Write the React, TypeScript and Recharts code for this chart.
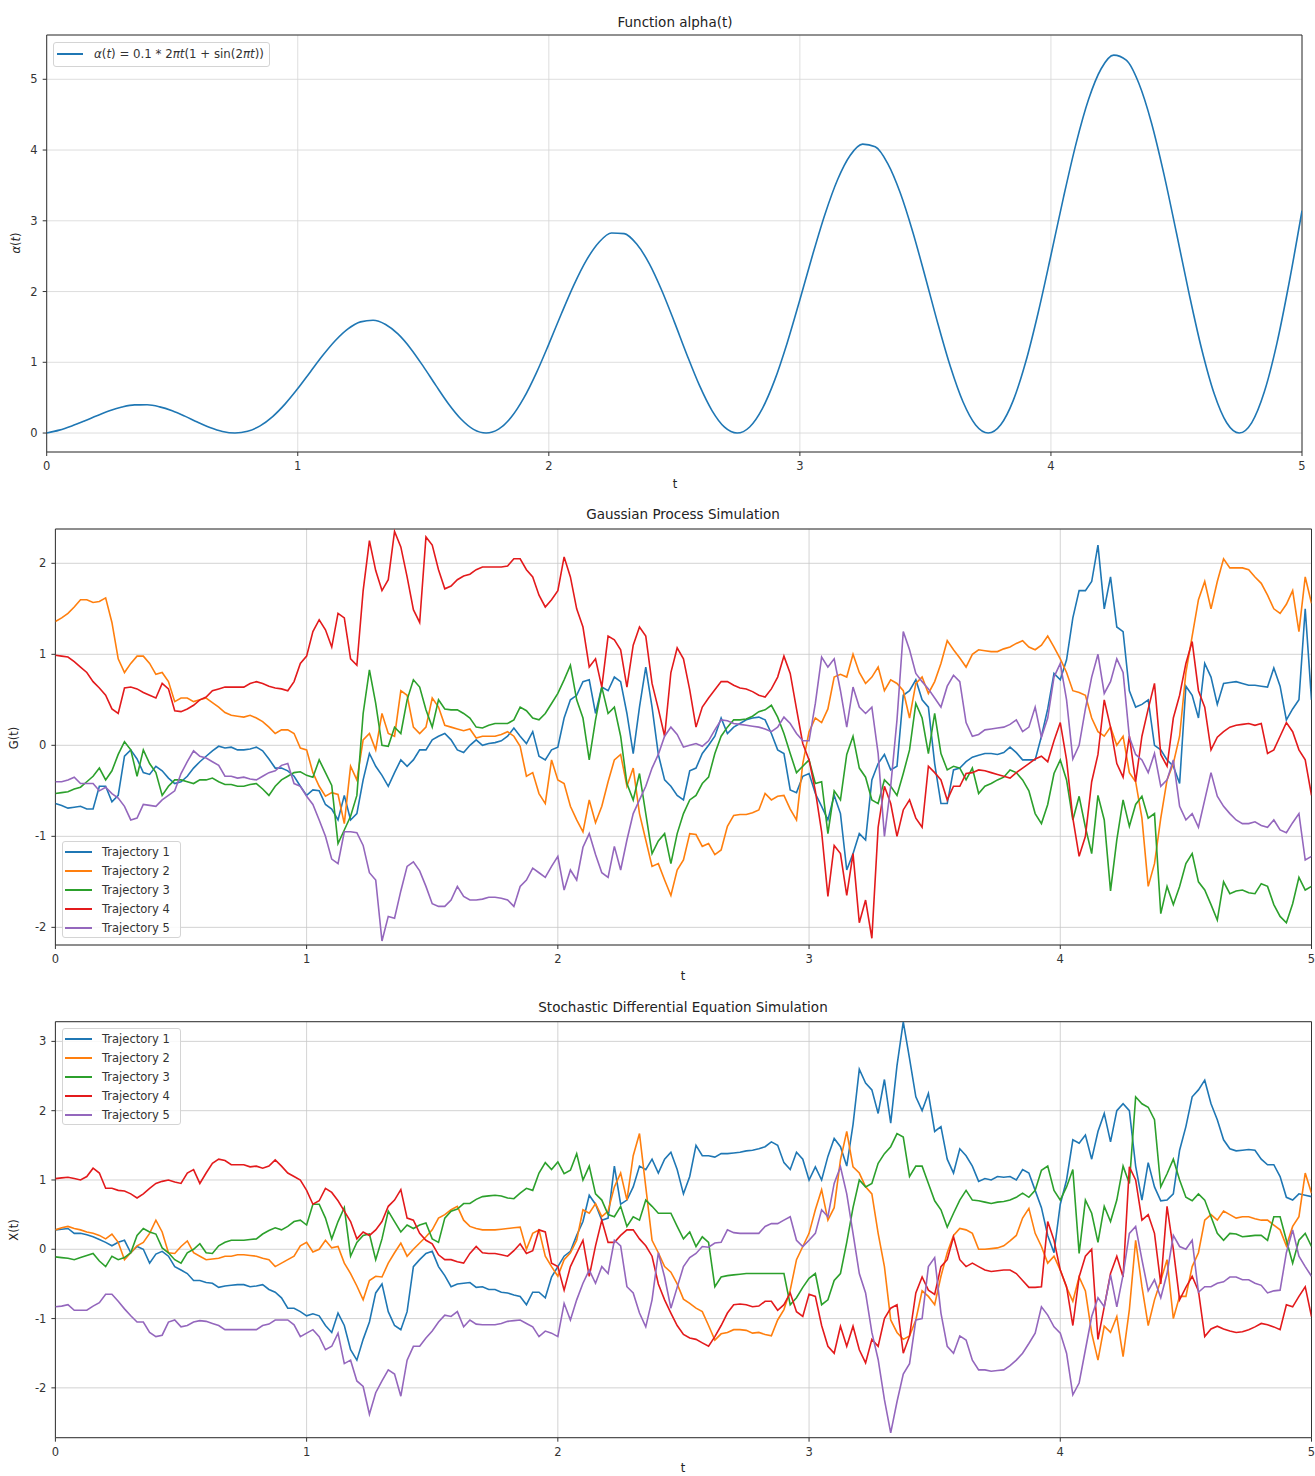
import React from 'react';
import { LineChart, Line, XAxis, YAxis, CartesianGrid, ReferenceArea } from 'recharts';

const FONT = '"DejaVu Sans", Verdana, sans-serif';

// time grid shared by every series (main points)
const tValues = [
  0, 0.05, 0.1, 0.15, 0.2, 0.25, 0.3, 0.35, 0.4, 0.45,
  0.5, 0.55, 0.6, 0.65, 0.7, 0.75, 0.8, 0.85, 0.9, 0.95,
  1, 1.05, 1.1, 1.15, 1.2, 1.25, 1.3, 1.35, 1.4, 1.45,
  1.5, 1.55, 1.6, 1.65, 1.7, 1.75, 1.8, 1.85, 1.9, 1.95,
  2, 2.05, 2.1, 2.15, 2.2, 2.25, 2.3, 2.35, 2.4, 2.45,
  2.5, 2.55, 2.6, 2.65, 2.7, 2.75, 2.8, 2.85, 2.9, 2.95,
  3, 3.05, 3.1, 3.15, 3.2, 3.25, 3.3, 3.35, 3.4, 3.45,
  3.5, 3.55, 3.6, 3.65, 3.7, 3.75, 3.8, 3.85, 3.9, 3.95,
  4, 4.05, 4.1, 4.15, 4.2, 4.25, 4.3, 4.35, 4.4, 4.45,
  4.5, 4.55, 4.6, 4.65, 4.7, 4.75, 4.8, 4.85, 4.9, 4.95, 5,
];
// in-between sample times used by the noisy trajectories
const tMid = [
  0.025, 0.075, 0.125, 0.175, 0.225, 0.275, 0.325, 0.375, 0.425, 0.475,
  0.525, 0.575, 0.625, 0.675, 0.725, 0.775, 0.825, 0.875, 0.925, 0.975,
  1.025, 1.075, 1.125, 1.175, 1.225, 1.275, 1.325, 1.375, 1.425, 1.475,
  1.525, 1.575, 1.625, 1.675, 1.725, 1.775, 1.825, 1.875, 1.925, 1.975,
  2.025, 2.075, 2.125, 2.175, 2.225, 2.275, 2.325, 2.375, 2.425, 2.475,
  2.525, 2.575, 2.625, 2.675, 2.725, 2.775, 2.825, 2.875, 2.925, 2.975,
  3.025, 3.075, 3.125, 3.175, 3.225, 3.275, 3.325, 3.375, 3.425, 3.475,
  3.525, 3.575, 3.625, 3.675, 3.725, 3.775, 3.825, 3.875, 3.925, 3.975,
  4.025, 4.075, 4.125, 4.175, 4.225, 4.275, 4.325, 4.375, 4.425, 4.475,
  4.525, 4.575, 4.625, 4.675, 4.725, 4.775, 4.825, 4.875, 4.925, 4.975,
];

const alphaValues = [
  0, 0.041, 0.1, 0.17, 0.245, 0.314, 0.368, 0.398, 0.399, 0.37,
  0.314, 0.239, 0.155, 0.078, 0.022, 0, 0.025, 0.102, 0.233, 0.412,
  0.628, 0.864, 1.098, 1.307, 1.471, 1.571, 1.594, 1.534, 1.397, 1.193,
  0.942, 0.673, 0.414, 0.198, 0.052, 0, 0.055, 0.222, 0.492, 0.847,
  1.257, 1.686, 2.095, 2.444, 2.697, 2.827, 2.819, 2.671, 2.395, 2.015,
  1.571, 1.107, 0.673, 0.318, 0.083, 0, 0.086, 0.342, 0.751, 1.281,
  1.885, 2.509, 3.093, 3.58, 3.923, 4.084, 4.045, 3.808, 3.392, 2.838,
  2.199, 1.541, 0.932, 0.438, 0.114, 0, 0.117, 0.462, 1.01, 1.715,
  2.513, 3.331, 4.091, 4.717, 5.149, 5.341, 5.271, 4.944, 4.39, 3.66,
  2.827, 1.975, 1.191, 0.558, 0.145, 0, 0.148, 0.582, 1.268, 2.149, 3.142,
];

// Gaussian process trajectories, values at tValues
const gp1 = [
  -0.64, -0.69, -0.67, -0.7, -0.45, -0.55, -0.05, -0.3, -0.23, -0.36,
  -0.4, -0.25, -0.12, -0.01, -0.02, -0.05, -0.02, -0.15, -0.25, -0.34,
  -0.55, -0.5, -0.7, -0.55, -0.75, -0.09, -0.33, -0.3, -0.23, -0.05,
  0.06, 0.13, -0.05, 0, 0, 0.03, 0.1, 0.1, 0.15, -0.16,
  -0.02, 0.5, 0.7, 0.35, 0.6, 0.7, -0.09, 0.86, -0.1, -0.45,
  -0.6, -0.25, 0, 0.3, 0.2, 0.28, 0.31, 0.13, -0.09, -0.52,
  -0.31, -0.67, -0.55, -1.37, -0.97, -0.38, -0.1, -0.23, 0.6, 0.5,
  -0.2, -0.64, -0.25, -0.13, -0.09, -0.1, -0.02, -0.16, -0.16, 0.4,
  0.72, 1.4, 1.7, 2.2, 1.85, 1.25, 0.42, 0.5, -0.05, -0.23,
  0.65, 0.3, 0.75, 0.68, 0.7, 0.66, 0.65, 0.85, 0.28, 0.5, 0.5,
];
const gp2 = [
  1.36, 1.45, 1.6, 1.57, 1.62, 0.95, 0.9, 0.98, 0.78, 0.7,
  0.52, 0.48, 0.52, 0.42, 0.33, 0.31, 0.3, 0.2, 0.17, 0.13,
  -0.05, -0.45, -0.52, -0.86, -0.38, 0.13, 0.35, 0.1, 0.55, 0.13,
  0.52, 0.22, 0.18, 0.18, 0.1, 0.1, 0.15, -0.01, -0.3, -0.64,
  -0.38, -0.67, -0.95, -0.85, -0.4, -0.1, -0.25, -1.04, -1.3, -1.65,
  -1.26, -0.98, -1.08, -1.15, -0.77, -0.76, -0.71, -0.6, -0.55, -0.82,
  0.15, 0.25, 0.75, 0.75, 0.8, 0.75, 0.6, 0.68, 0.3, 0.75,
  0.7, 1.15, 0.96, 1.0, 1.04, 1.03, 1.08, 1.15, 1.05, 1.2,
  0.95, 0.6, 0.55, 0.15, 0.2, 0.1, -0.4, -1.55, -0.8, -0.2,
  0.8, 1.6, 1.5, 2.05, 1.95, 1.93, 1.78, 1.5, 1.55, 1.25, 1.56,
];
const gp3 = [
  -0.53, -0.51, -0.46, -0.34, -0.38, -0.1, -0.05, -0.05, -0.3, -0.45,
  -0.38, -0.42, -0.38, -0.4, -0.43, -0.45, -0.42, -0.55, -0.38, -0.3,
  -0.33, -0.16, -0.44, -0.93, -0.55, 0.83, 0, 0.2, 0.5, 0.64,
  0.2, 0.4, 0.39, 0.3, 0.19, 0.24, 0.24, 0.42, 0.3, 0.35,
  0.57, 0.88, 0.3, 0.28, 0.35, 0.1, -0.6, -0.75, -1.05, -1.3,
  -0.75, -0.55, -0.35, 0.1, 0.28, 0.29, 0.37, 0.44, 0.13, -0.3,
  -0.16, -0.4, -0.5, -0.1, -0.25, -0.6, -0.38, -0.55, -0.05, 0.3,
  0.35, -0.27, -0.25, -0.25, -0.45, -0.38, -0.27, -0.38, -0.75, -0.65,
  -0.16, -0.82, -0.9, -0.55, -1.6, -0.6, -0.65, -0.8, -1.85, -1.75,
  -1.3, -1.5, -1.75, -1.5, -1.6, -1.62, -1.52, -1.75, -1.95, -1.45, -1.55,
];
const gp4 = [
  0.99, 0.97, 0.86, 0.7, 0.55, 0.35, 0.64, 0.58, 0.52, 0.62,
  0.37, 0.44, 0.53, 0.62, 0.64, 0.64, 0.7, 0.65, 0.62, 0.7,
  0.98, 1.38, 1.08, 1.4, 0.88, 2.25, 1.7, 2.35, 1.85, 1.35,
  2.2, 1.72, 1.82, 1.88, 1.96, 1.96, 1.97, 2.05, 1.85, 1.52,
  1.7, 1.85, 1.3, 0.95, 1.2, 1.05, 1.1, 1.2, 0.4, 0.8,
  0.95, 0.2, 0.52, 0.7, 0.66, 0.62, 0.55, 0.62, 0.98, 0.4,
  -0.16, -0.95, -1.1, -1.65, -1.95, -2.12, -0.45, -1.0, -0.6, -0.9,
  -0.3, -0.6, -0.45, -0.3, -0.28, -0.32, -0.36, -0.25, -0.15, -0.18,
  0.25, -0.8, -1.0, -0.1, 0.2, -0.35, -0.4, 0.4, -0.1, 0.3,
  0.9, 0.6, -0.05, 0.15, 0.22, 0.24, 0.24, -0.05, 0.25, -0.05, -0.55,
];
const gp5 = [
  -0.4, -0.38, -0.42, -0.42, -0.46, -0.58, -0.82, -0.65, -0.67, -0.55,
  -0.31, -0.06, -0.14, -0.22, -0.34, -0.35, -0.38, -0.3, -0.22, -0.42,
  -0.56, -0.82, -1.25, -0.95, -0.96, -1.4, -2.15, -1.9, -1.33, -1.38,
  -1.74, -1.77, -1.55, -1.7, -1.69, -1.67, -1.7, -1.55, -1.35, -1.45,
  -1.22, -1.37, -1.12, -1.2, -1.45, -1.37, -0.75, -0.45, -0.1, 0.2,
  -0.02, 0.02, 0.05, 0.28, 0.24, 0.22, 0.2, 0.15, 0.31, 0.13,
  0.05, 0.97, 0.95, 0.2, 0.42, 0.42, -1.0, 0.28, 1.05, 0.7,
  0.52, 0.65, 0.7, 0.1, 0.17, 0.19, 0.23, 0.15, 0.42, 0.3,
  0.9, -0.15, 0.4, 1.0, 0.7, 0.8, -0.1, -0.3, -0.45, -0.16,
  -0.82, -0.9, -0.3, -0.67, -0.82, -0.86, -0.88, -0.82, -0.96, -0.75, -1.22,
];

// Gaussian process trajectories, values at tMid
const gp1Mid = [
  -0.66, -0.68, -0.7, -0.45, -0.62, -0.12, -0.15, -0.32, -0.28, -0.42,
  -0.34, -0.18, -0.06, -0.03, -0.05, -0.04, -0.06, -0.25, -0.28, -0.45,
  -0.49, -0.65, -0.82, -0.82, -0.38, -0.23, -0.45, -0.16, -0.16, -0.05,
  0.1, 0.06, -0.08, 0.06, 0.02, 0.05, 0.19, 0.02, -0.12, -0.05,
  0.3, 0.55, 0.72, 0.64, 0.75, 0.35, 0.42, 0.42, -0.38, -0.55,
  -0.28, -0.09, 0.1, 0.13, 0.24, 0.3, 0.28, -0.05, -0.49, -0.34,
  -0.53, -0.82, -0.75, -1.19, -1.04, -0.2, -0.27, 0.55, 0.72, 0.42,
  -0.64, -0.27, -0.18, -0.11, -0.09, -0.08, -0.08, -0.16, 0.1, 0.79,
  0.94, 1.7, 1.8, 1.5, 1.3, 0.6, 0.45, 0, -0.16, -0.42,
  0.55, 0.9, 0.45, 0.69, 0.68, 0.66, 0.64, 0.65, 0.4, 1.5,
];
const gp2Mid = [
  1.4, 1.52, 1.6, 1.58, 1.35, 0.8, 0.98, 0.9, 0.8, 0.48,
  0.52, 0.5, 0.47, 0.36, 0.32, 0.33, 0.26, 0.13, 0.17, -0.03,
  -0.3, -0.56, -0.54, -0.23, 0.06, -0.05, 0.13, 0.6, 0.2, 0.2,
  0.42, 0.2, 0.16, 0.08, 0.1, 0.12, 0.1, -0.34, -0.53, -0.16,
  -0.42, -0.82, -0.6, -0.67, -0.16, -0.45, -0.75, -1.33, -1.48, -1.37,
  -0.97, -1.11, -1.2, -0.89, -0.76, -0.74, -0.53, -0.56, -0.7, -0.2,
  0.3, 0.4, 0.78, 1.0, 0.68, 0.86, 0.72, 0.6, 0.68, 0.57,
  0.9, 1.05, 0.86, 1.05, 1.03, 1.06, 1.12, 1.08, 1.1, 1.08,
  0.8, 0.58, 0.3, 0.1, 0, -0.3, -0.8, -1.3, -0.38, 0.1,
  1.2, 1.8, 1.8, 1.95, 1.95, 1.85, 1.65, 1.45, 1.7, 1.85,
];
const gp3Mid = [
  -0.52, -0.48, -0.4, -0.25, -0.28, 0.04, -0.34, -0.2, -0.55, -0.38,
  -0.4, -0.38, -0.36, -0.43, -0.45, -0.43, -0.48, -0.45, -0.34, -0.29,
  -0.35, -0.3, -1.08, -0.78, 0.35, 0.46, -0.01, 0.13, 0.72, 0.39,
  0.5, 0.39, 0.35, 0.2, 0.22, 0.24, 0.28, 0.38, 0.28, 0.46,
  0.72, 0.5, -0.16, 0.64, 0.42, -0.42, -0.31, -1.19, -0.97, -0.97,
  -0.6, -0.42, -0.09, 0.2, 0.28, 0.32, 0.39, 0.31, -0.09, -0.23,
  -0.42, -0.97, -0.6, 0.1, -0.35, -0.64, -0.45, -0.31, 0.46, -0.09,
  -0.09, -0.23, -0.38, -0.53, -0.42, -0.35, -0.3, -0.5, -0.86, -0.31,
  -0.38, -0.56, -1.19, -0.82, -1.04, -0.89, -0.56, -0.75, -1.55, -1.55,
  -1.19, -1.59, -1.92, -1.63, -1.59, -1.63, -1.55, -1.88, -1.74, -1.59,
];
const gp4Mid = [
  0.98, 0.92, 0.8, 0.63, 0.4, 0.63, 0.62, 0.55, 0.68, 0.38,
  0.4, 0.5, 0.6, 0.64, 0.64, 0.68, 0.68, 0.63, 0.6, 0.9,
  1.25, 1.27, 1.45, 0.95, 1.7, 1.92, 1.82, 2.18, 1.49, 2.29,
  1.93, 1.75, 1.86, 1.93, 1.96, 1.96, 2.05, 1.93, 1.65, 1.6,
  2.07, 1.5, 0.86, 0.64, 1.16, 0.64, 1.3, 0.68, 0.1, 1.07,
  0.61, 0.42, 0.61, 0.7, 0.63, 0.59, 0.53, 0.75, 0.79, 0.02,
  -0.5, -1.66, -1.19, -1.19, -1.7, -0.9, -0.64, -0.71, -0.8, -0.23,
  -0.38, -0.45, -0.31, -0.27, -0.3, -0.34, -0.3, -0.2, -0.12, 0.05,
  -0.16, -1.22, -0.4, 0.5, -0.2, 0.1, 0.1, 0.68, -0.23, 0.55,
  1.14, 0.42, 0.09, 0.2, 0.23, 0.22, -0.09, 0.1, 0.15, -0.16,
];
const gp5Mid = [
  -0.4, -0.35, -0.42, -0.5, -0.53, -0.67, -0.8, -0.66, -0.6, -0.5,
  -0.18, -0.12, -0.18, -0.34, -0.36, -0.37, -0.34, -0.28, -0.2, -0.45,
  -0.65, -1.0, -1.3, -0.95, -1.1, -1.48, -1.88, -1.6, -1.28, -1.55,
  -1.77, -1.7, -1.66, -1.7, -1.67, -1.68, -1.77, -1.48, -1.4, -1.33,
  -1.59, -1.48, -0.97, -1.4, -1.11, -1.04, -0.6, -0.25, 0.1, 0.12,
  0, -0.01, 0.17, 0.27, 0.23, 0.21, 0.18, 0.2, 0.24, 0.05,
  0.46, 0.86, 0.6, 0.64, 0.35, -0.09, -0.45, 1.25, 0.79, 0.62,
  0.42, 0.77, 0.25, 0.12, 0.18, 0.2, 0.28, 0.2, 0.09, 0.75,
  0.5, 0, 0.75, 0.57, 0.95, 0.09, -0.16, -0.09, -0.38, -0.67,
  -0.75, -0.6, -0.56, -0.75, -0.86, -0.84, -0.9, -0.93, -0.85, -1.26,
];

// SDE trajectories, values at tValues
const sde1 = [
  0.28, 0.3, 0.23, 0.18, 0.1, 0.1, -0.05, 0, -0.07, -0.1,
  -0.3, -0.45, -0.48, -0.55, -0.52, -0.51, -0.53, -0.58, -0.7, -0.85,
  -0.96, -0.96, -1.2, -1.1, -1.6, -1.05, -0.5, -1.1, -0.9, -0.15,
  -0.03, -0.38, -0.5, -0.48, -0.54, -0.58, -0.63, -0.68, -0.62, -0.7,
  -0.25, -0.03, 0.4, 0.65, 0.45, 0.65, 0.9, 1.15, 1.1, 1.4,
  0.8, 1.5, 1.35, 1.38, 1.39, 1.42, 1.45, 1.55, 1.25, 1.4,
  1.0, 1.0, 1.6, 1.2, 2.6, 2.3, 2.45, 2.65, 2.75, 2.0,
  1.7, 1.3, 1.45, 1.2, 1.02, 1.05, 1.05, 1.15, 0.85, 0.2,
  0.65, 1.58, 1.65, 1.7, 1.55, 2.1, 1.2, 1.25, 0.7, 0.8,
  1.77, 2.3, 2.1, 1.58, 1.42, 1.44, 1.3, 1.22, 0.75, 0.8, 0.76,
];
const sde2 = [
  0.28, 0.33, 0.28, 0.23, 0.15, 0.1, -0.05, 0.1, 0.42, -0.05,
  0.04, -0.05, -0.15, -0.13, -0.1, -0.08, -0.1, -0.15, -0.2, -0.1,
  0.1, 0, 0.02, -0.2, -0.53, -0.45, -0.4, -0.05, -0.1, 0.09,
  0.28, 0.5, 0.62, 0.33, 0.28, 0.28, 0.3, 0.32, 0.23, -0.1,
  -0.39, -0.05, 0.57, 0.66, 0.55, 1.1, 1.35, 0.9, -0.05, -0.33,
  -0.72, -0.85, -1.1, -1.22, -1.16, -1.17, -1.2, -1.25, -0.87, -0.15,
  0.23, 0.86, 0.6, 1.7, 1.1, 0.8, -0.25, -1.2, -1.25, -0.6,
  -0.8, -0.05, 0.3, 0.23, 0, 0.02, 0.12, 0.45, 0.23, -0.2,
  -0.3, -0.75, -0.6, -1.6, -1.2, -1.55, 0.13, -1.1, -0.45, -1.0,
  -0.68, -0.05, 0.5, 0.55, 0.45, 0.47, 0.42, 0.35, 0.05, 0.47, 0.81,
];
const sde3 = [
  -0.11, -0.13, -0.12, -0.06, -0.25, -0.15, -0.05, 0.3, 0.22, -0.05,
  -0.2, 0, -0.05, 0.05, 0.13, 0.13, 0.15, 0.27, 0.28, 0.4,
  0.35, 0.65, 0.15, 0.6, 0.1, 0.22, 0.15, 0.4, 0.35, 0.35,
  0.15, 0.45, 0.58, 0.66, 0.76, 0.78, 0.74, 0.81, 0.85, 1.25,
  1.26, 1.14, 1.0, 0.8, 0.5, 0.62, 0.47, 0.71, 0.52, 0.52,
  0.15, 0.04, 0.1, -0.4, -0.37, -0.35, -0.35, -0.35, -0.35, -0.7,
  -0.42, -0.8, -0.45, 0.1, 1.0, 0.95, 1.38, 1.67, 1.05, 1.2,
  0.7, 0.32, 0.71, 0.71, 0.68, 0.68, 0.71, 0.81, 0.85, 1.2,
  0.71, 1.15, 0.71, 0.1, 0.4, 1.2, 2.2, 2.05, 0.9, 1.3,
  0.75, 0.8, 0.47, 0.13, 0.22, 0.19, 0.2, 0.47, 0.13, 0.13, 0.04,
];
const sde4 = [
  1.02, 1.04, 1.0, 1.17, 0.88, 0.85, 0.8, 0.8, 0.95, 1.0,
  0.95, 1.15, 1.1, 1.3, 1.22, 1.22, 1.2, 1.2, 1.2, 1.05,
  0.85, 0.7, 0.82, 0.55, 0.15, 0.2, 0.4, 0.71, 0.45, 0.23,
  0.08, -0.15, -0.18, -0.06, -0.05, -0.06, -0.1, 0.08, -0.02, 0.25,
  -0.25, -0.25, 0.13, 0.05, 0.1, 0.2, 0.28, 0.05, -0.5, -0.92,
  -1.23, -1.3, -1.4, -1.1, -0.8, -0.8, -0.82, -0.75, -0.8, -0.9,
  -0.65, -1.1, -1.5, -1.4, -1.45, -1.3, -1.0, -0.8, -1.25, -0.4,
  -0.65, -0.15, -0.15, -0.2, -0.3, -0.31, -0.3, -0.45, -0.55, 0.4,
  -0.3, -1.1, -0.1, -1.3, -0.35, -0.4, 1.0, 0.5, -0.5, 0,
  -0.55, -0.6, -1.15, -1.15, -1.2, -1.16, -1.07, -1.12, -0.8, -0.68, -0.97,
];
const sde5 = [
  -0.83, -0.8, -0.88, -0.82, -0.65, -0.75, -0.96, -1.05, -1.26, -1.05,
  -1.12, -1.05, -1.04, -1.1, -1.16, -1.16, -1.16, -1.08, -1.02, -1.09,
  -1.21, -1.26, -1.4, -1.65, -1.9, -2.38, -1.9, -1.8, -1.6, -1.4,
  -1.18, -0.95, -0.9, -1.02, -1.09, -1.09, -1.04, -1.02, -1.12, -1.18,
  -1.26, -1.02, -0.49, -0.49, -0.35, 0.05, -0.63, -1.12, -0.05, -0.85,
  -0.25, -0.06, 0.03, 0.1, 0.24, 0.23, 0.23, 0.37, 0.42, 0.13,
  0.13, 0.57, 0.95, 0.8, -0.35, -1.2, -2.17, -2.2, -1.65, -1.0,
  -0.12, -1.4, -1.25, -1.6, -1.74, -1.75, -1.68, -1.5, -1.21, -0.95,
  -1.21, -2.1, -1.45, -0.7, -0.37, -0.37, 0.33, -0.6, -0.7, 0.2,
  0, -0.62, -0.54, -0.47, -0.4, -0.44, -0.52, -0.6, -0.05, -0.1, -0.39,
];

// SDE trajectories, values at tMid
const sde1Mid = [
  0.29, 0.23, 0.21, 0.14, 0.05, 0.13, 0.04, -0.2, -0.03, -0.25,
  -0.35, -0.45, -0.49, -0.53, -0.51, -0.54, -0.51, -0.62, -0.85, -0.9,
  -0.93, -1.1, -0.92, -1.45, -1.3, -0.63, -0.9, -1.16, -0.25, -0.06,
  -0.25, -0.54, -0.49, -0.55, -0.58, -0.62, -0.66, -0.8, -0.62, -0.4,
  -0.1, 0.2, 0.78, 0.42, 1.2, 0.71, 1.2, 1.3, 1.3, 1.15,
  1.05, 1.35, 1.33, 1.38, 1.4, 1.43, 1.48, 1.5, 1.15, 1.3,
  1.19, 1.34, 1.48, 1.8, 2.4, 1.96, 1.82, 3.28, 2.2, 2.25,
  1.77, 1.1, 1.35, 0.98, 1.0, 1.04, 1.0, 1.1, 0.6, -0.05,
  1.0, 1.53, 1.3, 1.96, 2.0, 2.0, 0.71, 0.9, 0.71, 1.43,
  2.2, 2.44, 1.87, 1.45, 1.43, 1.43, 1.22, 1.05, 0.71, 0.78,
];
const sde2Mid = [
  0.31, 0.3, 0.25, 0.2, 0.22, -0.15, 0.05, 0.23, 0.25, -0.06,
  0.12, -0.1, -0.14, -0.1, -0.08, -0.09, -0.13, -0.25, -0.15, 0.05,
  -0.04, 0.13, 0.04, -0.35, -0.73, -0.39, -0.2, 0.09, 0, 0.18,
  0.45, 0.57, 0.42, 0.3, 0.28, 0.29, 0.31, 0, 0.28, -0.25,
  -0.15, 0.13, 0.52, 0.47, 0.9, 0.71, 1.67, 0.13, -0.25, -0.5,
  -0.78, -0.9, -1.31, -1.2, -1.16, -1.21, -1.23, -1.02, -0.59, 0.04,
  0.57, 0.42, 1.29, 1.19, 0.9, 0.23, -1.02, -1.3, -1.02, -0.68,
  -0.39, 0.2, 0.28, 0, 0.01, 0.05, 0.2, 0.59, 0.04, -0.1,
  -0.55, -0.4, -1.21, -1.11, -0.97, -0.87, -0.54, -0.73, -0.15, -0.68,
  -0.25, 0.42, 0.42, 0.5, 0.47, 0.44, 0.42, 0.28, 0.33, 1.1,
];
const sde3Mid = [
  -0.12, -0.15, -0.09, -0.17, -0.1, -0.12, 0.2, 0.25, 0.02, -0.15,
  -0.05, 0.08, -0.06, 0.1, 0.13, 0.14, 0.22, 0.31, 0.33, 0.42,
  0.65, 0.45, 0.4, -0.1, 0.2, -0.15, 0.55, 0.25, 0.3, 0.38,
  0.1, 0.55, 0.66, 0.72, 0.77, 0.77, 0.73, 0.88, 1.1, 1.15,
  1.09, 1.38, 1.2, 0.71, 0.47, 0.33, 0.42, 0.62, 0.52, 0.33,
  0.25, 0.18, -0.54, -0.38, -0.36, -0.35, -0.35, -0.35, -0.8, -0.55,
  -0.35, -0.73, -0.35, 0.6, 0.9, 1.24, 1.48, 1.62, 1.2, 0.95,
  0.57, 0.52, 0.85, 0.7, 0.66, 0.69, 0.75, 0.75, 1.14, 0.85,
  0.9, -0.06, 0.52, 0.62, 0.71, 0.95, 2.1, 1.87, 1.09, 1.0,
  0.7, 0.71, 0.23, 0.23, 0.18, 0.2, 0.13, 0.47, -0.2, 0.23,
];
const sde4Mid = [
  1.03, 1.02, 1.05, 1.1, 0.88, 0.84, 0.74, 0.88, 0.98, 0.97,
  1.1, 0.95, 1.24, 1.28, 1.22, 1.19, 1.17, 1.29, 1.1, 1.0,
  0.65, 0.88, 0.7, 0.4, 0.25, 0.28, 0.62, 0.86, 0.42, 0.13,
  -0.08, -0.15, -0.2, 0.04, -0.06, -0.08, -0.02, -0.06, 0.28, -0.2,
  -0.59, -0.06, -0.39, 0.42, 0.1, 0.28, 0.15, -0.1, -0.73, -1.1,
  -1.28, -1.35, -1.26, -0.92, -0.79, -0.83, -0.75, -0.88, -0.63, -0.97,
  -0.68, -1.4, -1.11, -1.11, -1.64, -1.4, -0.85, -1.5, -0.63, -0.59,
  -0.25, 0.18, -0.25, -0.25, -0.32, -0.3, -0.35, -0.55, -0.54, 0.13,
  -0.54, -0.4, 0, -0.83, -0.1, 1.19, 0.42, 0.23, 0.62, -0.73,
  -0.39, -1.26, -1.11, -1.18, -1.19, -1.12, -1.09, -1.16, -0.83, -0.54,
];
const sde5Mid = [
  -0.82, -0.88, -0.88, -0.77, -0.65, -0.86, -1.05, -1.2, -1.24, -1.02,
  -1.1, -1.03, -1.07, -1.16, -1.16, -1.16, -1.1, -1.02, -1.02, -1.26,
  -1.16, -1.45, -1.21, -1.6, -1.98, -2.07, -1.74, -2.12, -1.4, -1.28,
  -1.05, -0.97, -1.12, -1.08, -1.09, -1.07, -1.03, -1.07, -1.26, -1.21,
  -0.78, -0.73, -0.3, -0.25, 0.13, -0.54, -0.92, -0.73, -0.4, -0.55,
  -0.12, 0.04, 0.09, 0.28, 0.23, 0.23, 0.33, 0.37, 0.47, 0.04,
  0.23, 0.47, 1.19, 0.23, -0.63, -1.59, -2.65, -1.8, -1.02, -0.25,
  -0.92, -1.5, -1.31, -1.74, -1.76, -1.74, -1.6, -1.36, -0.83, -1.12,
  -1.5, -1.93, -0.97, -0.83, -0.83, 0.23, -0.15, -0.44, -0.35, 0.04,
  0.13, -0.54, -0.49, -0.4, -0.44, -0.49, -0.63, -0.59, 0.28, -0.25,
];

const xTicks = [0, 1, 2, 3, 4, 5];
const alphaTicks = [0, 1, 2, 3, 4, 5];
const gpTicks = [-2, -1, 0, 1, 2];
const sdeTicks = [-2, -1, 0, 1, 2, 3];

const trajectoryNames = ['Trajectory 1', 'Trajectory 2', 'Trajectory 3', 'Trajectory 4', 'Trajectory 5'];
const trajectoryColors = ['#1f77b4', '#ff7f0e', '#2ca02c', '#e31a1c', '#9467bd'];
const seriesKeys = ['s1', 's2', 's3', 's4', 's5'];

// merge main and in-between samples into one time-ordered table
const buildRows = (main: number[][], mid: number[][]) => {
  const rows: Record<string, number>[] = [];
  tValues.forEach((t, i) => {
    const row: Record<string, number> = { t };
    main.forEach((s, k) => {
      row[seriesKeys[k]] = s[i];
    });
    rows.push(row);
    if (i < tMid.length) {
      const midRow: Record<string, number> = { t: tMid[i] };
      mid.forEach((s, k) => {
        midRow[seriesKeys[k]] = s[i];
      });
      rows.push(midRow);
    }
  });
  return rows;
};

const alphaRows = tValues.map((t, i) => ({ t, alpha: alphaValues[i] }));
const gpRows = buildRows([gp1, gp2, gp3, gp4, gp5], [gp1Mid, gp2Mid, gp3Mid, gp4Mid, gp5Mid]);
const sdeRows = buildRows([sde1, sde2, sde3, sde4, sde5], [sde1Mid, sde2Mid, sde3Mid, sde4Mid, sde5Mid]);

const tickStyle = { fontSize: 11.5, fill: '#333', fontFamily: FONT };

type PanelProps = {
  top: number;
  height: number;
  margin: { top: number; right: number; bottom: number; left: number };
  yWidth: number;
  rows: Record<string, number>[];
  keys: string[];
  colors: string[];
  yDomain: [number, number];
  yTicks: number[];
  gridColor: string;
  curve: 'linear' | 'monotone';
};

const Panel = (p: PanelProps) => (
  <div style={{ position: 'absolute', left: 0, top: p.top }}>
    <LineChart width={1315} height={p.height} data={p.rows} margin={p.margin}>
      <CartesianGrid stroke={p.gridColor} strokeWidth={0.8} />
      <XAxis
        dataKey="t"
        type="number"
        domain={[0, 5]}
        ticks={xTicks}
        interval={0}
        allowDataOverflow
        height={30}
        tickSize={4}
        tickMargin={6}
        tick={tickStyle}
        axisLine={false}
        tickLine={{ stroke: '#333' }}
      />
      <YAxis
        type="number"
        domain={p.yDomain}
        ticks={p.yTicks}
        interval={0}
        allowDataOverflow
        width={p.yWidth}
        tickSize={4}
        tickMargin={5}
        tick={tickStyle}
        axisLine={false}
        tickLine={{ stroke: '#333' }}
      />
      {p.keys.map((k, i) => (
        <Line
          key={k}
          dataKey={k}
          type={p.curve}
          stroke={p.colors[i]}
          strokeWidth={1.6}
          dot={false}
          isAnimationActive={false}
        />
      ))}
      <ReferenceArea
        x1={0}
        x2={5}
        y1={p.yDomain[0]}
        y2={p.yDomain[1]}
        fill="none"
        fillOpacity={0}
        stroke="#333"
        strokeWidth={1}
        ifOverflow="visible"
      />
    </LineChart>
  </div>
);

const textAt = (left: number, top: number, size: number, rotate = false): React.CSSProperties => ({
  position: 'absolute',
  left,
  top,
  fontSize: size,
  whiteSpace: 'nowrap',
  lineHeight: 1,
  transform: rotate ? 'translate(-50%, -50%) rotate(-90deg)' : 'translate(-50%, -50%)',
});

const TrajectoryLegend = ({ left, top }: { left: number; top: number }) => (
  <div
    style={{
      position: 'absolute',
      left,
      top,
      width: 119,
      height: 97,
      border: '1px solid #d4d4d4',
      borderRadius: 3,
      background: 'rgba(255,255,255,0.85)',
      boxSizing: 'border-box',
    }}
  >
    {trajectoryNames.map((name, i) => (
      <div
        key={name}
        style={{ position: 'absolute', left: 2, top: 10 + i * 19 - 7, height: 14, display: 'flex', alignItems: 'center' }}
      >
        <span style={{ display: 'inline-block', width: 27, height: 2, background: trajectoryColors[i] }} />
        <span style={{ marginLeft: 10, fontSize: 11.5, color: '#333' }}>{name}</span>
      </div>
    ))}
  </div>
);

const App = () => (
  <div
    style={{
      position: 'absolute',
      left: 0,
      top: 0,
      width: 1315,
      height: 1476,
      background: '#fff',
      fontFamily: FONT,
      color: '#222',
      overflow: 'hidden',
    }}
  >
    <Panel
      top={0}
      height={500}
      margin={{ top: 35, right: 13, bottom: 18, left: 0 }}
      yWidth={46.7}
      rows={alphaRows}
      keys={['alpha']}
      colors={['#1f77b4']}
      yDomain={[-0.268, 5.626]}
      yTicks={alphaTicks}
      gridColor="#d6d6d6"
      curve="monotone"
    />
    <Panel
      top={500}
      height={500}
      margin={{ top: 29, right: 3.5, bottom: 25, left: 0 }}
      yWidth={55.4}
      rows={gpRows}
      keys={seriesKeys}
      colors={trajectoryColors}
      yDomain={[-2.194, 2.377]}
      yTicks={gpTicks}
      gridColor="#c8c8c8"
      curve="linear"
    />
    <Panel
      top={1000}
      height={476}
      margin={{ top: 21.7, right: 3.5, bottom: 8.3, left: 0 }}
      yWidth={55.4}
      rows={sdeRows}
      keys={seriesKeys}
      colors={trajectoryColors}
      yDomain={[-2.719, 3.284]}
      yTicks={sdeTicks}
      gridColor="#c8c8c8"
      curve="linear"
    />

    <div style={textAt(675, 22.5, 13.5)}>Function alpha(t)</div>
    <div style={textAt(675, 484.5, 11.5)}>t</div>
    <div style={textAt(16.5, 243, 11.5, true)}>
      <i>α</i>(<i>t</i>)
    </div>

    <div style={textAt(683, 515, 13.5)}>Gaussian Process Simulation</div>
    <div style={textAt(683, 976.5, 11.5)}>t</div>
    <div style={textAt(15, 738, 11.5, true)}>G(t)</div>

    <div style={textAt(683, 1008, 13.5)}>Stochastic Differential Equation Simulation</div>
    <div style={textAt(683, 1469, 11.5)}>t</div>
    <div style={textAt(15, 1230, 11.5, true)}>X(t)</div>

    <div
      style={{
        position: 'absolute',
        left: 53,
        top: 41.5,
        width: 217,
        height: 25,
        border: '1px solid #d4d4d4',
        borderRadius: 3,
        background: 'rgba(255,255,255,0.85)',
        boxSizing: 'border-box',
        display: 'flex',
        alignItems: 'center',
      }}
    >
      <span style={{ display: 'inline-block', marginLeft: 3, width: 26, height: 2, background: '#1f77b4' }} />
      <span style={{ marginLeft: 11, fontSize: 11.8, color: '#333', whiteSpace: 'nowrap' }}>
        <i>α</i>(<i>t</i>) = 0.1 * 2<i>πt</i>(1 + sin(2<i>πt</i>))
      </span>
    </div>

    <TrajectoryLegend left={62} top={840.5} />
    <TrajectoryLegend left={62} top={1028.3} />
  </div>
);

export default App;
